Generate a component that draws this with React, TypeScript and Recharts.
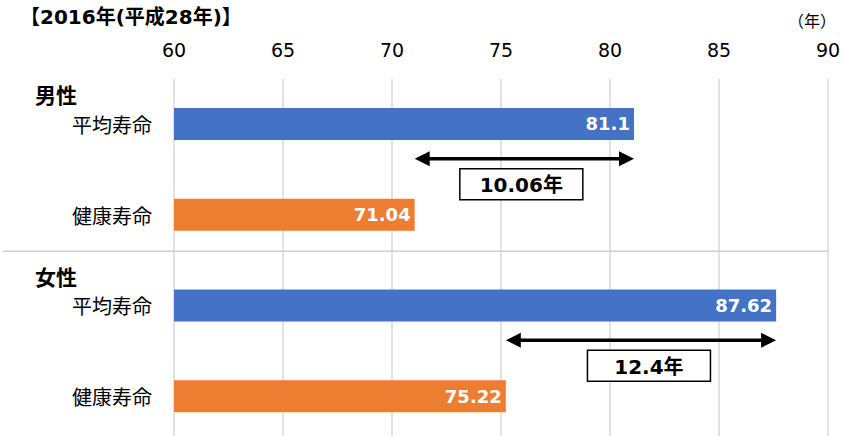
import React from 'react';
import { BarChart, Bar, XAxis, YAxis, CartesianGrid, Cell, LabelList } from 'recharts';

const categories = ['m_avg', 'm_health', 'f_avg', 'f_health'];
const categoryLabels = ['平均寿命', '健康寿命', '平均寿命', '健康寿命'];
const groupLabels = ['男性', '', '女性', ''];
const lifeValues = [81.1, 71.04, 87.62, 75.22];
const gapValues = [10.06, 12.4];
const xTicks = [60, 65, 70, 75, 80, 85, 90];
const titleText = '【2016年(平成28年)】';
const unitText = '（年）';

const X_MIN = 60;
const X_MAX = 90;
const BLUE = '#4472C4';
const ORANGE = '#ED7D31';
const FONT = "'DejaVu Sans', 'Noto Sans CJK JP', sans-serif";
const JP_FONT = "'Noto Sans CJK JP', sans-serif";

const data = categories.map((key, i) => {
  const isHealth = i % 2 === 1;
  return {
    key,
    label: categoryLabels[i],
    group: groupLabels[i],
    value: lifeValues[i],
    kind: isHealth ? 'health' : 'avg',
    avg: isHealth ? lifeValues[i - 1] : null,
    gap: isHealth ? gapValues[(i - 1) / 2] : null,
    boxShift: i === 1 ? -3 : 8,
  };
});

const XTick = (props: any) => {
  const { x, payload } = props;
  return (
    <text x={x} y={50} textAnchor="middle" dominantBaseline="central" fontSize={19} fill="#000" fontFamily={FONT}>
      {payload.value}
    </text>
  );
};

const YTick = (props: any) => {
  const { y, payload, index } = props;
  const row = data.find((d) => d.key === payload.value) || data[index];
  return (
    <g>
      <text x={152} y={y} textAnchor="end" dominantBaseline="central" fontSize={20} fill="#000" fontFamily={JP_FONT}>
        {row.label}
      </text>
      {row.group ? (
        <text x={35} y={y - 30} textAnchor="start" dominantBaseline="central" fontSize={21} fontWeight="bold" fill="#000" fontFamily={JP_FONT}>
          {row.group}
        </text>
      ) : null}
      {row.key === 'm_health' ? (
        <line x1={3} x2={828} y1={y + 36} y2={y + 36} stroke="#d0d0d0" strokeWidth={1.5} />
      ) : null}
    </g>
  );
};

const BarShape = (props: any) => {
  const { x, y, width, height, fill, payload } = props;
  const els: any[] = [<rect key="r" x={x} y={y} width={width} height={height} fill={fill} />];
  if (payload && payload.kind === 'health') {
    const unit = width / (payload.value - X_MIN);
    const x1 = x + width;
    const x2 = x + (payload.avg - X_MIN) * unit;
    const ay = y - 40;
    const head = 15;
    const hh = 7.5;
    const mid = (x1 + x2) / 2 + payload.boxShift;
    const bw = 123;
    const bh = 31;
    els.push(
      <g key="a">
        <line x1={x1 + head - 2} x2={x2 - head + 2} y1={ay} y2={ay} stroke="#000" strokeWidth={3.5} />
        <polygon points={`${x1},${ay} ${x1 + head},${ay - hh} ${x1 + head},${ay + hh}`} fill="#000" />
        <polygon points={`${x2},${ay} ${x2 - head},${ay - hh} ${x2 - head},${ay + hh}`} fill="#000" />
        <rect x={mid - bw / 2} y={ay + 10} width={bw} height={bh} fill="#fff" stroke="#000" strokeWidth={1.5} />
        <text x={mid} y={ay + 10 + bh / 2 + 1} textAnchor="middle" dominantBaseline="central" fontSize={20} fontWeight="bold" fill="#000" fontFamily={FONT}>
          {`${payload.gap}年`}
        </text>
      </g>
    );
  }
  return <g>{els}</g>;
};

export default function App() {
  return (
    <div style={{ position: 'absolute', left: 0, top: 0, width: 844, height: 436, overflow: 'hidden', background: '#fff', fontFamily: FONT }}>
      <div style={{ position: 'absolute', left: 20, top: 4, fontSize: 20, fontWeight: 'bold', lineHeight: '26px', color: '#000', fontFamily: FONT, whiteSpace: 'nowrap' }}>
        {titleText}
      </div>
      <div style={{ position: 'absolute', left: 788, top: 9, fontSize: 16, lineHeight: '22px', color: '#000', fontFamily: JP_FONT, whiteSpace: 'nowrap' }}>
        {unitText}
      </div>
      <div style={{ position: 'absolute', left: 0, top: 0 }}>
        <BarChart width={844} height={442} data={data} layout="vertical" margin={{ top: 49, right: 16, bottom: 0, left: 0 }} barSize={32}>
          <CartesianGrid horizontal={false} vertical={true} stroke="#d9d9d9" strokeWidth={1.5} />
          <XAxis type="number" orientation="top" domain={[X_MIN, X_MAX]} ticks={xTicks} height={30} axisLine={false} tickLine={false} tick={<XTick />} interval={0} />
          <YAxis type="category" dataKey="key" width={174} axisLine={false} tickLine={false} tick={<YTick />} interval={0} />
          <Bar dataKey="value" isAnimationActive={false} shape={<BarShape />}>
            {data.map((d) => (
              <Cell key={d.key} fill={d.kind === 'avg' ? BLUE : ORANGE} />
            ))}
            <LabelList dataKey="value" position="insideRight" offset={4} fill="#fff" fontSize={18} fontWeight="bold" fontFamily={FONT} />
          </Bar>
        </BarChart>
      </div>
    </div>
  );
}
